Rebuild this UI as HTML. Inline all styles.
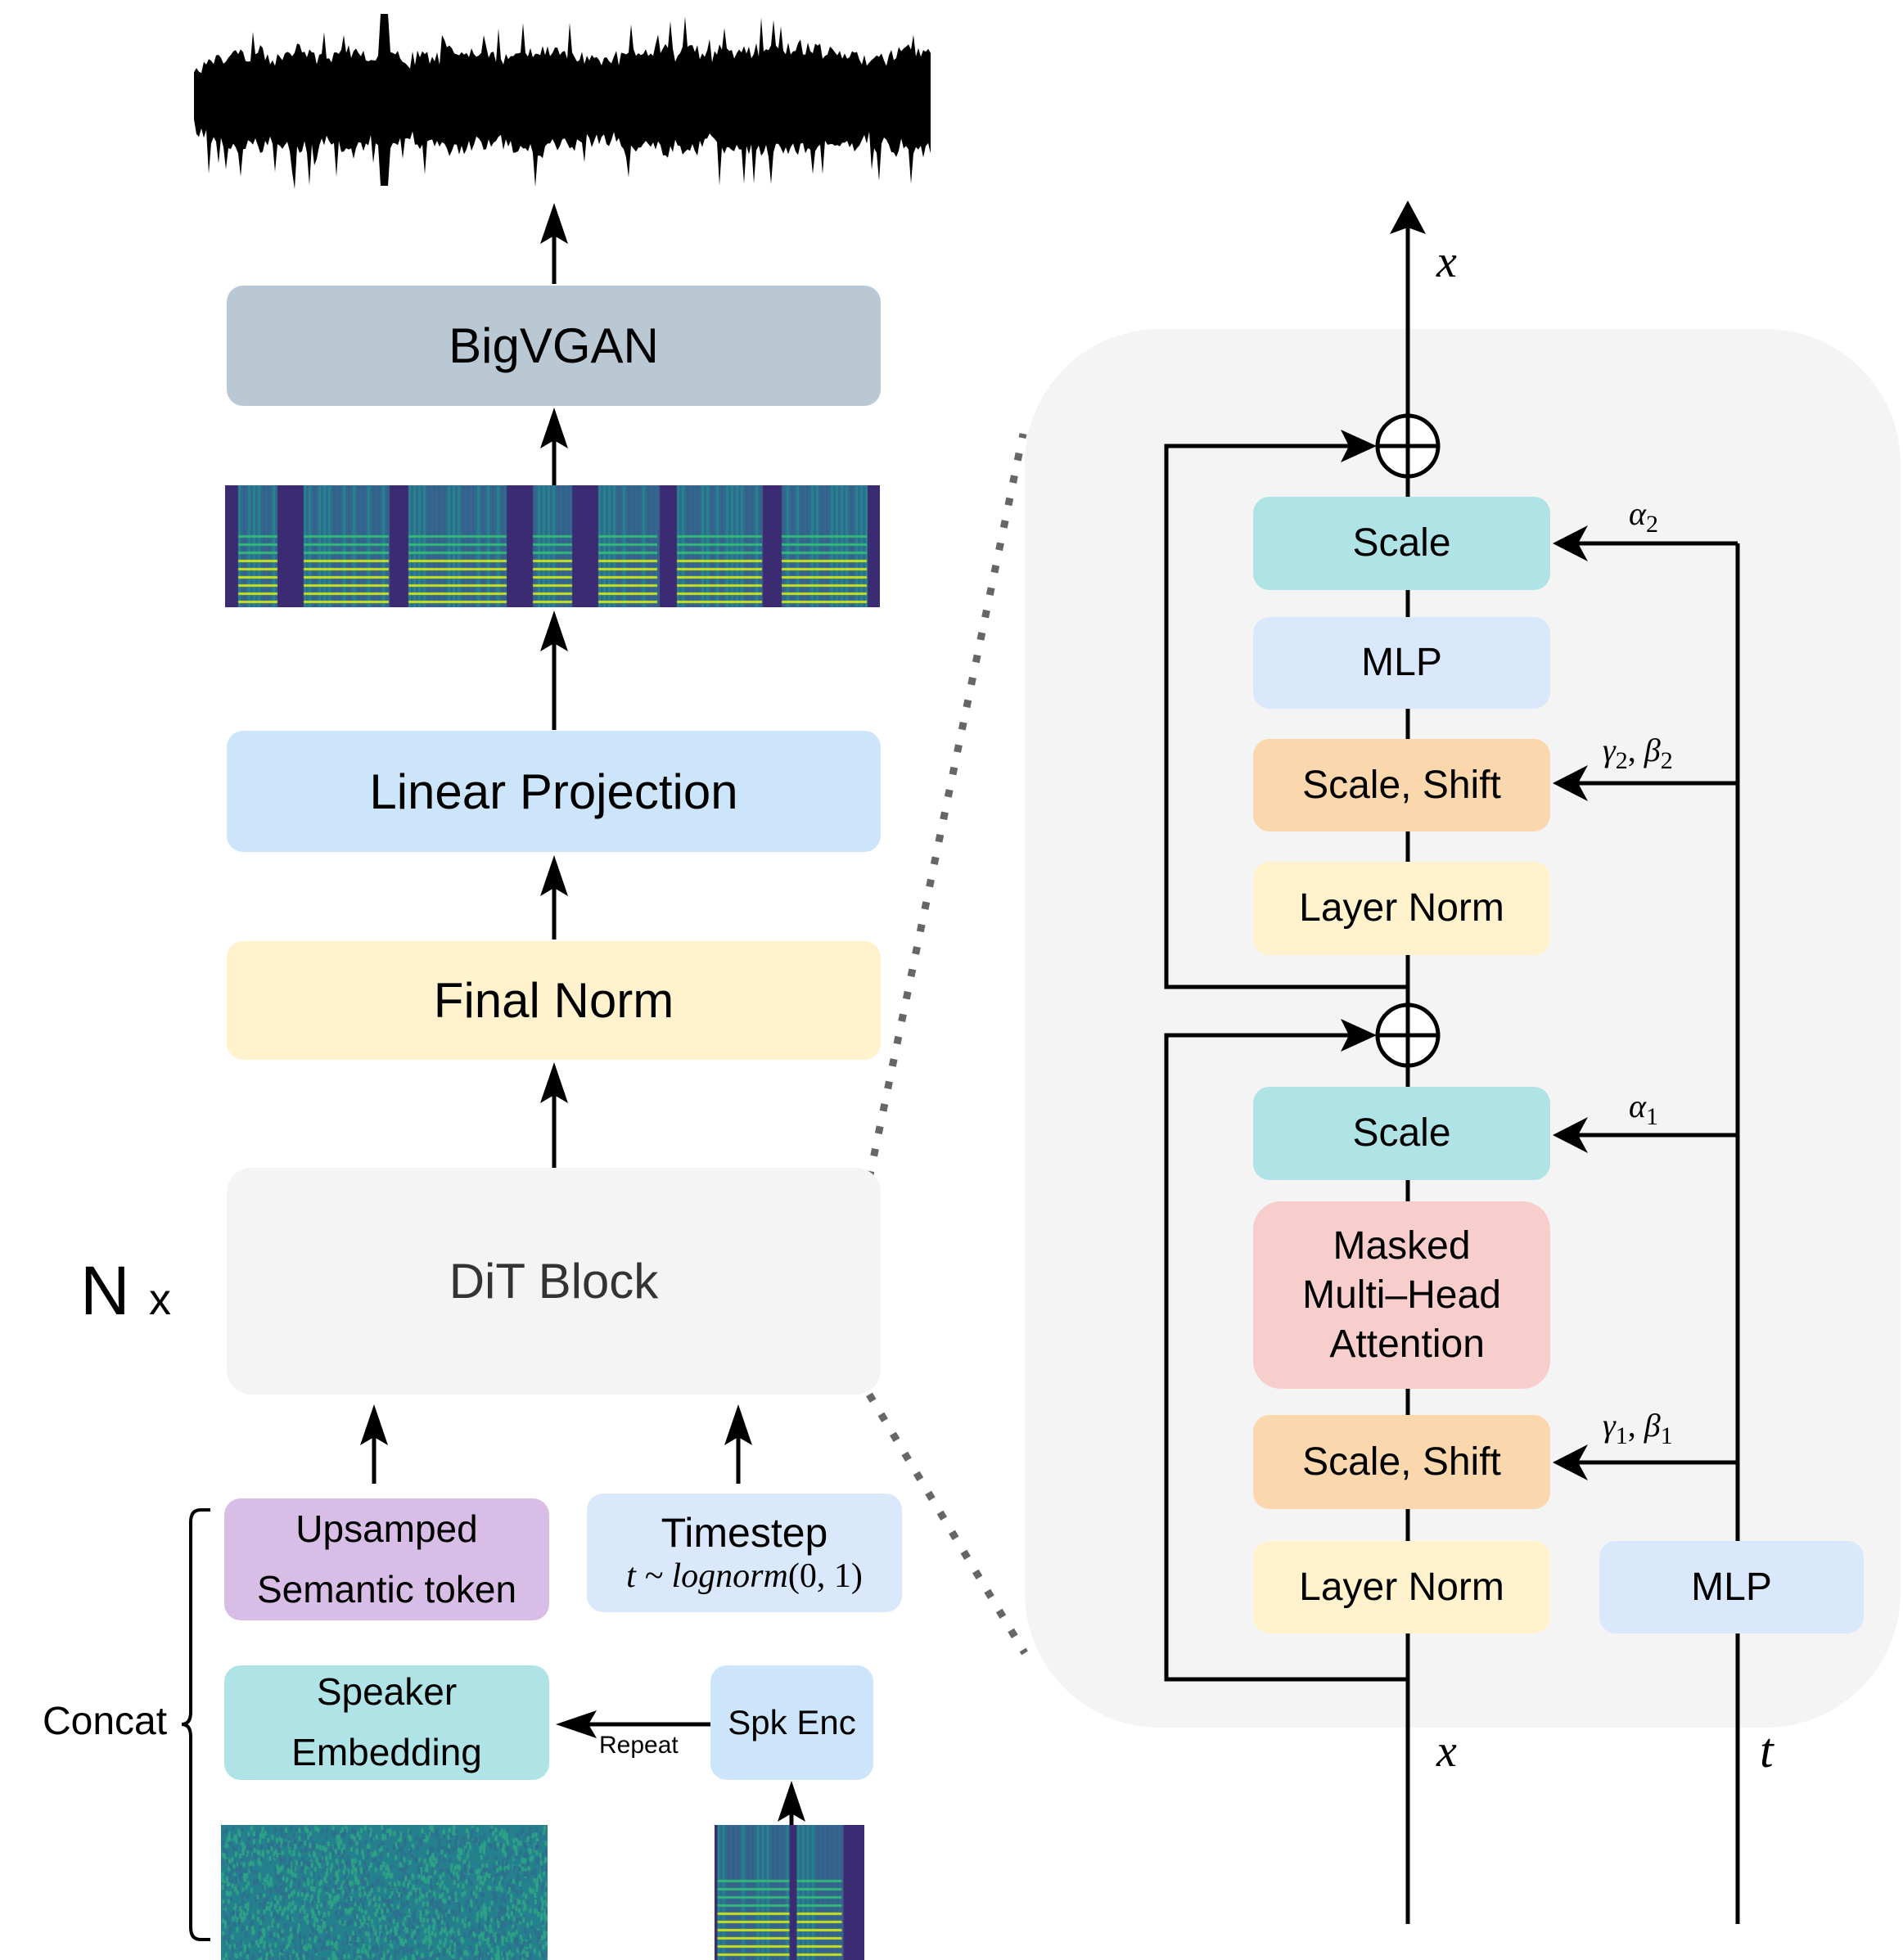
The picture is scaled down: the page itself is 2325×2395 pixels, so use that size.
<!DOCTYPE html>
<html><head><meta charset="utf-8">
<style>
body{margin:0;background:#fff;}
#c{position:relative;width:2325px;height:2395px;overflow:hidden;font-family:"Liberation Sans",sans-serif;color:#000;}
.b{position:absolute;display:flex;align-items:center;justify-content:center;text-align:center;border-radius:20px;line-height:1.25;}
.t{position:absolute;white-space:nowrap;}
.m{font-family:"Liberation Serif",serif;font-style:italic;}
canvas{position:absolute;}
</style></head><body>
<div id="c">
<div style="position:absolute;left:1252px;top:402px;width:1070px;height:1709px;background:#f4f4f4;border-radius:165px;"></div>

<svg width="2325" height="2395" style="position:absolute;left:0;top:0">
<g stroke="#000" stroke-width="5" fill="none">
<line x1="677" y1="347" x2="677" y2="255"/><path d="M660,298 L677,248 L694,298 L677,288z" fill="#000" stroke="none"/>
<line x1="677" y1="593" x2="677" y2="505"/><path d="M660,548 L677,498 L694,548 L677,538z" fill="#000" stroke="none"/>
<line x1="677" y1="892" x2="677" y2="755"/><path d="M660,796 L677,746 L694,796 L677,786z" fill="#000" stroke="none"/>
<line x1="677" y1="1148" x2="677" y2="1055"/><path d="M660,1095 L677,1045 L694,1095 L677,1085z" fill="#000" stroke="none"/>
<line x1="677" y1="1427" x2="677" y2="1308"/><path d="M660,1348 L677,1298 L694,1348 L677,1338z" fill="#000" stroke="none"/>
<line x1="457" y1="1813" x2="457" y2="1725"/><path d="M440,1766 L457,1716 L474,1766 L457,1756z" fill="#000" stroke="none"/>
<line x1="902" y1="1813" x2="902" y2="1725"/><path d="M885,1766 L902,1716 L919,1766 L902,1756z" fill="#000" stroke="none"/>
<line x1="868" y1="2107" x2="690" y2="2107"/><path d="M729,2090 L679,2107 L729,2124 L719,2107z" fill="#000" stroke="none"/>
<line x1="967" y1="2232" x2="967" y2="2185"/><path d="M950,2226 L967,2176 L984,2226 L967,2216z" fill="#000" stroke="none"/>
<path d="M257,1845 L245,1845 Q233,1845 233,1860 L233,2092 Q233,2107 222,2107 Q233,2107 233,2122 L233,2355 Q233,2370 245,2370 L257,2370" stroke-width="4"/>
<line x1="1720" y1="2351" x2="1720" y2="258"/><path d="M1698,286 L1720,245 L1742,286 L1720,278z" fill="#000" stroke="none"/>
<line x1="2123" y1="664" x2="2123" y2="2351"/>
<polyline points="1720,1206 1425,1206 1425,545 1670,545"/><path d="M1638,525 L1682,545 L1638,565 L1648,545z" fill="#000" stroke="none"/>
<polyline points="1720,2052 1425,2052 1425,1265 1670,1265"/><path d="M1638,1245 L1682,1265 L1638,1285 L1648,1265z" fill="#000" stroke="none"/>
<circle cx="1720" cy="545" r="37" fill="#fff"/><line x1="1683" y1="545" x2="1757" y2="545"/><line x1="1720" y1="508" x2="1720" y2="582"/>
<circle cx="1720" cy="1265" r="37" fill="#fff"/><line x1="1683" y1="1265" x2="1757" y2="1265"/><line x1="1720" y1="1228" x2="1720" y2="1302"/>
<line x1="2123" y1="664" x2="1910" y2="664"/><path d="M1940,642 L1897,664 L1940,686 L1928,664z" fill="#000" stroke="none"/>
<line x1="2123" y1="957" x2="1910" y2="957"/><path d="M1940,935 L1897,957 L1940,979 L1928,957z" fill="#000" stroke="none"/>
<line x1="2123" y1="1387" x2="1910" y2="1387"/><path d="M1940,1365 L1897,1387 L1940,1409 L1928,1387z" fill="#000" stroke="none"/>
<line x1="2123" y1="1787" x2="1910" y2="1787"/><path d="M1940,1765 L1897,1787 L1940,1809 L1928,1787z" fill="#000" stroke="none"/>
</g>
<g stroke="#666" stroke-width="9" stroke-dasharray="9 19" fill="none">
<line x1="1062" y1="1440" x2="1250" y2="530"/>
<line x1="1062" y1="1704" x2="1252" y2="2020"/>
</g>
</svg>

<svg id="wave" width="2325" height="240" style="position:absolute;left:0;top:0"></svg>
<canvas id="spec" width="800" height="149" style="left:275px;top:593px"></canvas>
<canvas id="noise" width="399" height="165" style="left:270px;top:2230px"></canvas>
<canvas id="spk" width="183" height="165" style="left:873px;top:2230px"></canvas>

<div class="b" style="left:277px;top:349px;width:799px;height:147px;background:#bac8d3;font-size:60px;">BigVGAN</div>
<div class="b" style="left:277px;top:893px;width:799px;height:148px;background:#cce5fb;font-size:60px;">Linear Projection</div>
<div class="b" style="left:277px;top:1150px;width:799px;height:145px;background:#fff2cc;font-size:60px;">Final Norm</div>
<div class="b" style="left:277px;top:1427px;width:799px;height:277px;background:#f4f4f4;font-size:60px;color:#333;border-radius:30px;">DiT Block</div>
<div class="t" style="left:98px;top:1529px;font-size:84px;">N <span style="font-size:54px">x</span></div>

<div class="b" style="left:274px;top:1831px;width:397px;height:149px;background:#d8bde6;font-size:46px;line-height:1.6;">Upsamped<br>Semantic token</div>
<div class="b" style="left:717px;top:1825px;width:385px;height:145px;background:#dae8fb;font-size:50px;flex-direction:column;line-height:1.15;">Timestep<div class="m" style="font-size:42px;">t ~ lognorm<span style="font-style:normal">(0, 1)</span></div></div>
<div class="b" style="left:274px;top:2035px;width:397px;height:140px;background:#b0e3e6;font-size:46px;line-height:1.6;">Speaker<br>Embedding</div>
<div class="b" style="left:868px;top:2035px;width:199px;height:140px;background:#cce5fb;font-size:42px;">Spk Enc</div>
<div class="t" style="left:732px;top:2116px;font-size:30px;">Repeat</div>
<div class="t" style="left:52px;top:2076px;font-size:48px;">Concat</div>

<div class="b" style="left:1531px;top:607px;width:363px;height:114px;background:#b0e3e6;font-size:48px;">Scale</div>
<div class="b" style="left:1531px;top:754px;width:363px;height:112px;background:#dae8fb;font-size:48px;">MLP</div>
<div class="b" style="left:1531px;top:903px;width:363px;height:113px;background:#fad7ac;font-size:48px;">Scale, Shift</div>
<div class="b" style="left:1531px;top:1053px;width:363px;height:114px;background:#fff2cc;font-size:48px;">Layer Norm</div>
<div class="b" style="left:1531px;top:1328px;width:363px;height:114px;background:#b0e3e6;font-size:48px;">Scale</div>
<div class="b" style="left:1531px;top:1468px;width:363px;height:229px;background:#f8cecc;font-size:48px;line-height:1.25;border-radius:34px;">Masked<br>Multi–Head<br>&nbsp;Attention</div>
<div class="b" style="left:1531px;top:1729px;width:363px;height:115px;background:#fad7ac;font-size:48px;">Scale, Shift</div>
<div class="b" style="left:1531px;top:1883px;width:363px;height:113px;background:#fff2cc;font-size:48px;">Layer Norm</div>
<div class="b" style="left:1954px;top:1883px;width:323px;height:113px;background:#dae8fb;font-size:48px;">MLP</div>

<div class="t m" style="left:1755px;top:288px;font-size:56px;">x</div>
<div class="t m" style="left:1755px;top:2108px;font-size:56px;">x</div>
<div class="t m" style="left:2150px;top:2105px;font-size:60px;">t</div>
<div class="t m" style="left:1990px;top:604px;font-size:40px;">α<sub style="font-style:normal;font-size:30px">2</sub></div>
<div class="t m" style="left:1958px;top:893px;font-size:40px;">γ<sub style="font-style:normal;font-size:30px">2</sub><span style="font-style:normal">, </span>β<sub style="font-style:normal;font-size:30px">2</sub></div>
<div class="t m" style="left:1990px;top:1328px;font-size:40px;">α<sub style="font-style:normal;font-size:30px">1</sub></div>
<div class="t m" style="left:1958px;top:1718px;font-size:40px;">γ<sub style="font-style:normal;font-size:30px">1</sub><span style="font-style:normal">, </span>β<sub style="font-style:normal;font-size:30px">1</sub></div>
</div>
<script>
(function(){
var s=12345;function r(){s=(s*16807)%2147483647;return s/2147483647;}
var top=[],bot=[],x0=237,x1=1139,c=122;
var env=0;
for(var x=x0;x<=x1;x+=3){
 env=0.8*env+0.2*(r()*60);
 var a=20+env+r()*15; if(r()<0.1)a+=r()*40; if(Math.abs(x-470)<6)a=105;
 var b=20+env+r()*15; if(r()<0.1)b+=r()*45; if(Math.abs(x-470)<6)b=105;
 top.push(x+","+(c-a).toFixed(1)); bot.unshift(x+","+(c+b).toFixed(1));
}
var p=document.createElementNS("http://www.w3.org/2000/svg","polygon");
p.setAttribute("points",top.concat(bot).join(" "));p.setAttribute("fill","#000");
document.getElementById("wave").appendChild(p);
function spec(id,W,H,segs){
 var g=document.getElementById(id).getContext("2d");
 g.fillStyle="#3b2b72";g.fillRect(0,0,W,H);
 for(var i=0;i<segs.length;i++){
  var sx=segs[i][0]*W,ex=segs[i][1]*W;
  g.fillStyle="#2f6a8e";g.fillRect(sx,0,ex-sx,H);
  for(var k=0;k<(ex-sx)/6;k++){g.fillStyle=r()<0.5?"#26838e":"#3a5f8c";g.fillRect(sx+k*6,0,3,H);}
  for(var y=H-8;y>H*0.35;y-=10){
   g.fillStyle=(y>H*0.6)?"#c8e020":"#35b779";
   g.fillRect(sx,y,ex-sx,3);
  }
 }
}
spec("spec",800,149,[[0.02,0.08],[0.12,0.25],[0.28,0.43],[0.47,0.53],[0.57,0.66],[0.69,0.82],[0.85,0.98]]);
spec("spk",183,165,[[0.02,0.5],[0.55,0.85]]);
var n=document.getElementById("noise").getContext("2d");
n.fillStyle="#25808e";n.fillRect(0,0,399,165);
for(var i=0;i<2500;i++){n.fillStyle=r()<0.5?"#2d708e":"#2ea386";n.fillRect(r()*399,r()*165,3,6);}
})();
</script>
</body></html>
